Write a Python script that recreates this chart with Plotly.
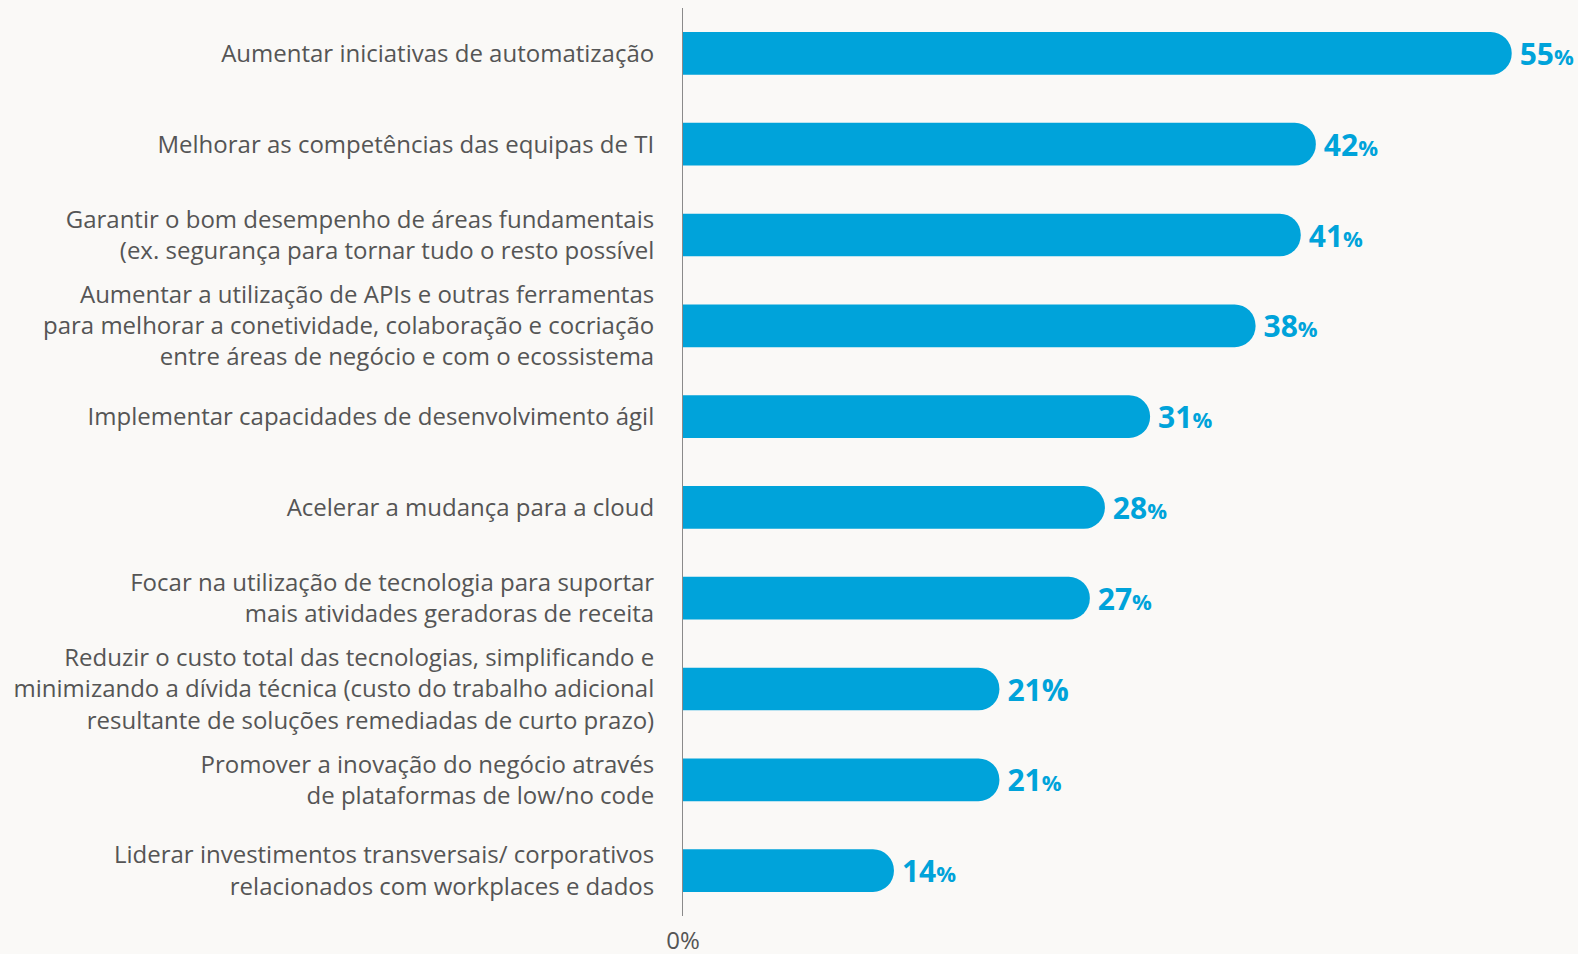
import plotly.graph_objects as go

# categories from top to bottom
categories = [
    "Aumentar iniciativas de automatização",
    "Melhorar as competências das equipas de TI",
    "Garantir o bom desempenho de áreas fundamentais<br>(ex. segurança para tornar tudo o resto possível",
    "Aumentar a utilização de APIs e outras ferramentas<br>para melhorar a conetividade, colaboração e cocriação<br>entre áreas de negócio e com o ecossistema",
    "Implementar capacidades de desenvolvimento ágil",
    "Acelerar a mudança para a cloud",
    "Focar na utilização de tecnologia para suportar<br>mais atividades geradoras de receita",
    "Reduzir o custo total das tecnologias, simplificando e<br>minimizando a dívida técnica (custo do trabalho adicional<br>resultante de soluções remediadas de curto prazo)",
    "Promover a inovação do negócio através<br>de plataformas de low/no code",
    "Liderar investimentos transversais/ corporativos<br>relacionados com workplaces e dados",
]
values = [55, 42, 41, 38, 31, 28, 27, 21, 21, 14]
# the reference prints the % sign smaller on all but one bar
small_pct = [True, True, True, True, True, True, True, False, True, True]

bar_color = "#00A3DA"
text_gray = "#555555"
bg = "#FAF9F7"

labels = []
for v, s in zip(values, small_pct):
    if s:
        labels.append(f"\u2009<b>{v}</b><span style='font-size:22px'><b>%</b></span>")
    else:
        labels.append(f"\u2009<b>{v}%</b>")

fig = go.Figure()
fig.add_trace(go.Bar(
    x=values,
    y=categories,
    orientation="h",
    marker=dict(color=bar_color, cornerradius=21, line=dict(width=0)),
    width=0.47,
    text=labels,
    textposition="outside",
    textfont=dict(family="Open Sans", size=30, color=bar_color),
    constraintext="none",
    cliponaxis=False,
    hoverinfo="skip",
))

fig.update_layout(
    width=1578,
    height=954,
    paper_bgcolor=bg,
    plot_bgcolor=bg,
    margin=dict(l=683, r=0, t=8, b=38),
    showlegend=False,
    font=dict(family="Open Sans", color=text_gray),
    xaxis=dict(
        range=[0, 59.4],
        automargin=False,
        showgrid=False,
        zeroline=False,
        showline=False,
        tickvals=[0],
        ticktext=["0%"],
        ticks="outside",
        ticklen=3,
        tickcolor=bg,
        tickfont=dict(size=24, color=text_gray),
        fixedrange=True,
    ),
    yaxis=dict(
        categoryorder="array",
        categoryarray=categories[::-1],
        automargin=False,
        showgrid=False,
        zeroline=False,
        showline=True,
        linecolor="#8a8a8a",
        linewidth=1,
        ticks="",
        ticklabelstandoff=23,
        tickfont=dict(size=24, color=text_gray),
        fixedrange=True,
    ),
)

fig.write_html("out.html", config={"displayModeBar": False},
               post_script="document.body.style.margin='0';")
